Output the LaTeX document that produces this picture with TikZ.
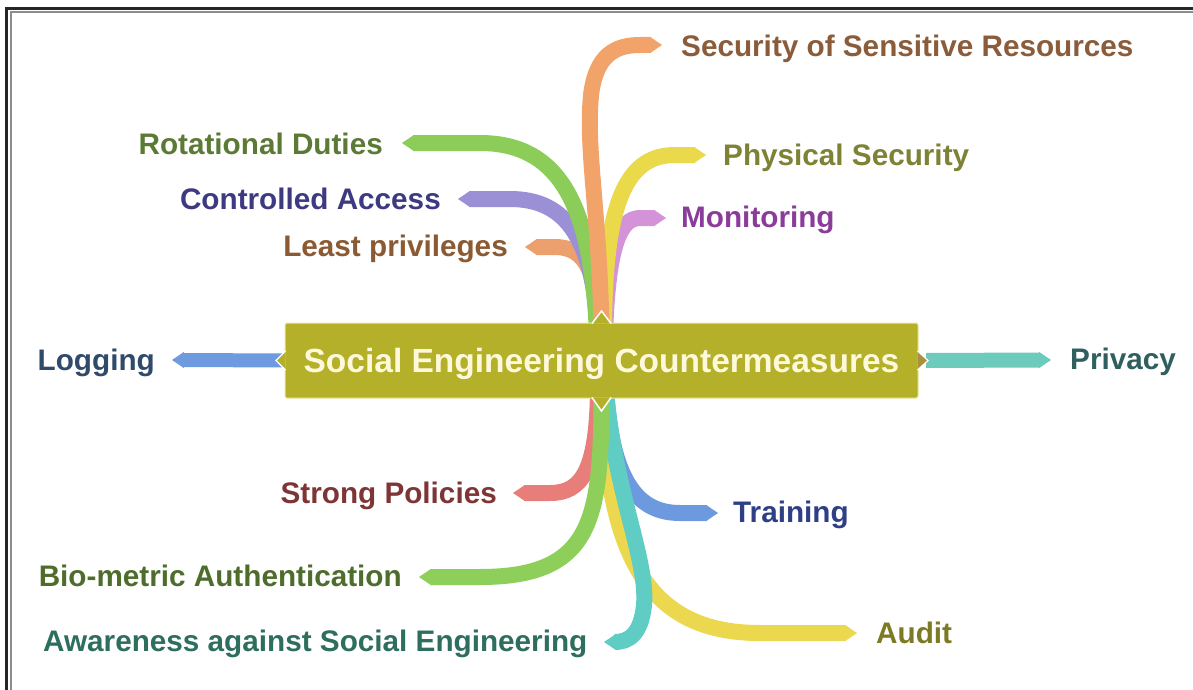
\documentclass[tikz,border=0pt]{standalone}
\usepackage{fontspec}
\setmainfont{Liberation Sans}
\usetikzlibrary{calc}
\definecolor{boxc}{HTML}{B4B02A}
\definecolor{boxline}{HTML}{ECE6A2}
\definecolor{boxtext}{HTML}{FFF9DC}
\definecolor{notchc}{HTML}{A8903E}
\definecolor{orangeT}{HTML}{F2A36A}\definecolor{secT}{HTML}{8A5C3A}
\definecolor{greenB}{HTML}{8CCD5A}\definecolor{rotT}{HTML}{5B7A35}
\definecolor{yellowB}{HTML}{EAD94A}\definecolor{phyT}{HTML}{7E8235}
\definecolor{lavB}{HTML}{9B8FD6}\definecolor{conT}{HTML}{3E3A82}
\definecolor{orchB}{HTML}{D493D8}\definecolor{monT}{HTML}{8B3C9A}
\definecolor{lpB}{HTML}{EBA06E}\definecolor{lpT}{HTML}{8C5A32}
\definecolor{logB}{HTML}{6E9BDF}\definecolor{logT}{HTML}{2F4A6B}
\definecolor{privB}{HTML}{6CCBBD}\definecolor{privT}{HTML}{2F5F5E}
\definecolor{spB}{HTML}{E77E7A}\definecolor{spT}{HTML}{7E3535}
\definecolor{trB}{HTML}{6D9ADF}\definecolor{trT}{HTML}{2E3F85}
\definecolor{bioB}{HTML}{8ECF5C}\definecolor{bioT}{HTML}{4E6D2D}
\definecolor{awB}{HTML}{5FCDC3}\definecolor{awT}{HTML}{2D6E5E}
\definecolor{auB}{HTML}{ECD84E}\definecolor{auT}{HTML}{7C7A24}
\tikzset{
  br/.style={line width=16pt, line cap=butt, line join=round},
  lbl/.style={inner sep=0pt, font=\bfseries\fontsize{29.7}{34}\selectfont},
}
\newcommand\tipL[2]{\fill[#2, shift={(#1)}] (0.8,-8) -- (-11,0) -- (0.8,8) -- cycle;}
\newcommand\tipR[2]{\fill[#2, shift={(#1)}] (-0.8,-8) -- (11,0) -- (-0.8,8) -- cycle;}
\begin{document}
\begin{tikzpicture}[x=1pt,y=-1pt]
\fill[white] (0,0) rectangle (1193,690);
\useasboundingbox (0,0) rectangle (1193,690);
% frame
\draw[line width=3pt, black!85] (6.5,690) -- (6.5,8.5) -- (1193,8.5);
\draw[line width=1.5pt, black!45] (11,690) -- (11,12) -- (1193,12);

% central node position (box drawn later on top)
\node[minimum width=633pt, minimum height=75pt, inner sep=0pt] (ctrpos) at (601.5,360.5) {};

% tip coordinates
\coordinate (tSec) at (651,45);
\coordinate (tRot) at (413,143);
\coordinate (tPhy) at (695,155);
\coordinate (tCon) at (469,199);
\coordinate (tMon) at (655,218);
\coordinate (tLea) at (536,247);
\coordinate (tLog) at (183,360);
\coordinate (tPri) at (1040,360);
\coordinate (tStr) at (524,493);
\coordinate (tTra) at (707,513);
\coordinate (tBio) at (430,577);
\coordinate (tAwa) at (615,642);
\coordinate (tAud) at (846,633);

% upper branches
\draw[br, lpB] (599,335) .. controls (598,275) and (587,247) .. (555,247) -- (tLea); \tipL{tLea}{lpB}
\draw[br, lavB] (598,335) .. controls (594,240) and (567,199) .. (510,199) -- (tCon); \tipL{tCon}{lavB}
\draw[br, greenB] (597,335) .. controls (592,210) and (562,143) .. (480,143) -- (tRot); \tipL{tRot}{greenB}
\draw[br, orchB] (605,335) .. controls (608,245) and (620,218) .. (640,218) -- (tMon); \tipR{tMon}{orchB}
\draw[br, yellowB] (604,335) .. controls (604,205) and (625,155) .. (675,155) -- (tPhy); \tipR{tPhy}{yellowB}
\draw[br, orangeT] (ctrpos.north) .. controls (598,200) and (586,150) .. (591,95) .. controls (596,55) and (615,45) .. (640,45) -- (tSec); \tipR{tSec}{orangeT}

% horizontal branches
\draw[br, line width=14pt, logB] (ctrpos.west) -- (tLog); \tipL{tLog}{logB}
\draw[br, line width=15pt, privB] ($(ctrpos.east)+(8,0)$) -- (tPri); \tipR{tPri}{privB}

% lower branches
\draw[br, spB] (598,390) .. controls (597,470) and (582,493) .. (550,493) -- (tStr); \tipL{tStr}{spB}
\draw[br, trB] (606,390) .. controls (612,485) and (640,513) .. (680,513) -- (tTra); \tipR{tTra}{trB}
\draw[br, auB] (602,390) .. controls (606,560) and (650,633) .. (760,633) -- (tAud); \tipR{tAud}{auB}
\draw[br, awB] (606,390) .. controls (614,490) and (648,560) .. (644,605) .. controls (641,635) and (628,642) .. (tAwa); \tipL{tAwa}{awB}
\draw[br, bioB] (ctrpos.south) .. controls (601,520) and (592,577) .. (480,577) -- (tBio); \tipL{tBio}{bioB}

% central box
\node[fill=boxc, draw=boxline, line width=1pt, rounded corners=2pt, minimum width=633pt, minimum height=75pt, inner sep=0pt, text=boxtext, text depth=0pt, font=\bfseries\fontsize{33.5}{38}\selectfont] (ctr) at (601.5,360.5) {Social Engineering Countermeasures};
\filldraw[fill=boxc, draw=white, line width=1.5pt] (592,323.5) -- (601.5,311) -- (611,323.5);
\filldraw[fill=boxc, draw=white, line width=1.5pt] (592,397.5) -- (601.5,411) -- (611,397.5);
\filldraw[fill=boxc, draw=white, line width=1.2pt] (285.5,351) -- (276,360.5) -- (285.5,370);
\filldraw[fill=notchc, draw=white, line width=1.2pt] (917.5,351) -- (928,360.5) -- (917.5,370);

% labels
\node[lbl, text=secT, anchor=base west] (lSec) at (681,57) {Security of Sensitive Resources};
\node[lbl, text=rotT, anchor=base east] (lRot) at (383,154) {Rotational Duties};
\node[lbl, text=phyT, anchor=base west] (lPhy) at (723,165) {Physical Security};
\node[lbl, text=conT, anchor=base east] (lCon) at (441,209) {Controlled Access};
\node[lbl, text=monT, anchor=base west] (lMon) at (681,227) {Monitoring};
\node[lbl, text=lpT, anchor=base east] (lLea) at (508,256) {Least privileges};
\node[lbl, text=logT, anchor=base east] (lLog) at (155,370) {Logging};
\node[lbl, text=privT, anchor=base west] (lPri) at (1070,369) {Privacy};
\node[lbl, text=spT, anchor=base east] (lStr) at (497,503) {Strong Policies};
\node[lbl, text=trT, anchor=base west] (lTra) at (733,522) {Training};
\node[lbl, text=bioT, anchor=base east] (lBio) at (402,586) {Bio-metric Authentication};
\node[lbl, text=awT, anchor=base west] (lAwa) at (43,651) {Awareness against Social Engineering};
\node[lbl, text=auT, anchor=base west] (lAud) at (876,643) {Audit};
\end{tikzpicture}
\end{document}
